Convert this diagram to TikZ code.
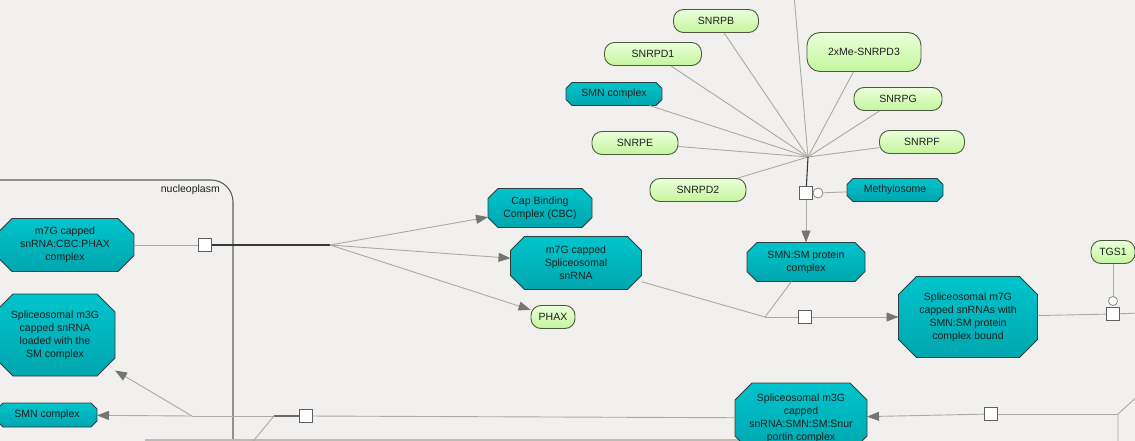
\documentclass[tikz,border=0pt]{standalone}
\usepackage{fontspec}
\setmainfont{Liberation Sans}
\usetikzlibrary{arrows.meta}
\definecolor{bgcol}{RGB}{241,240,238}
\definecolor{tealtop}{RGB}{0,196,204}
\definecolor{tealbot}{RGB}{0,166,174}
\definecolor{cplxline}{RGB}{45,62,62}
\definecolor{prottop}{RGB}{234,255,218}
\definecolor{protbot}{RGB}{196,246,156}
\definecolor{protline}{RGB}{78,88,62}
\definecolor{lncol}{RGB}{170,170,160}
\definecolor{dkcol}{RGB}{55,55,55}
\definecolor{arrcol}{RGB}{118,118,112}
\definecolor{txtcol}{RGB}{30,30,30}
\definecolor{compcol}{RGB}{95,95,95}

% octagon box for complexes
\makeatletter
\newdimen\octxa \newdimen\octxb \newdimen\octya \newdimen\octyb \newdimen\octc
\pgfkeys{/pgf/oct cut/.initial=7pt}
\pgfdeclareshape{octbox}{%
  \inheritsavedanchors[from=rectangle]%
  \inheritanchorborder[from=rectangle]%
  \inheritanchor[from=rectangle]{center}%
  \inheritanchor[from=rectangle]{text}%
  \inheritanchor[from=rectangle]{base}%
  \inheritanchor[from=rectangle]{mid}%
  \inheritanchor[from=rectangle]{north}%
  \inheritanchor[from=rectangle]{south}%
  \inheritanchor[from=rectangle]{east}%
  \inheritanchor[from=rectangle]{west}%
  \inheritanchor[from=rectangle]{north east}%
  \inheritanchor[from=rectangle]{north west}%
  \inheritanchor[from=rectangle]{south east}%
  \inheritanchor[from=rectangle]{south west}%
  \backgroundpath{%
    \pgfmathsetlength\octc{\pgfkeysvalueof{/pgf/oct cut}}%
    \southwest \octxa=\pgf@x \octya=\pgf@y
    \northeast \octxb=\pgf@x \octyb=\pgf@y
    \pgfpathmoveto{\pgfpoint{\octxa+\octc}{\octya}}%
    \pgfpathlineto{\pgfpoint{\octxb-\octc}{\octya}}%
    \pgfpathlineto{\pgfpoint{\octxb}{\octya+\octc}}%
    \pgfpathlineto{\pgfpoint{\octxb}{\octyb-\octc}}%
    \pgfpathlineto{\pgfpoint{\octxb-\octc}{\octyb}}%
    \pgfpathlineto{\pgfpoint{\octxa+\octc}{\octyb}}%
    \pgfpathlineto{\pgfpoint{\octxa}{\octyb-\octc}}%
    \pgfpathlineto{\pgfpoint{\octxa}{\octya+\octc}}%
    \pgfpathclose
  }%
}
\makeatother

\begin{document}
\begin{tikzpicture}[x=1pt, y=-1pt,
    font=\fontsize{10.5}{13}\selectfont,
    cplx/.style={shape=octbox, oct cut=#1, draw=cplxline, line width=0.9pt, outer sep=0pt,
                 top color=tealtop, bottom color=tealbot, align=center, inner sep=1pt,
                 minimum height=23pt, text=txtcol},
    cplx/.default=6pt,
    prot/.style={draw=protline, rounded corners=10pt, line width=0.9pt, top color=prottop,
                 bottom color=protbot, align=center, inner sep=1pt, minimum height=23pt, text=txtcol},
    rxn/.style={draw=dkcol!80, fill=white, line width=1.2pt, minimum size=13pt, inner sep=0pt},
    catc/.style={circle, draw=lncol!80!black, fill=white, line width=0.8pt, minimum size=9pt, inner sep=0pt},
    ln/.style={draw=lncol, line width=0.9pt},
    dk/.style={draw=dkcol, line width=1.1pt},
    arr/.style={ln, -{Triangle[length=12pt,width=9pt,color=arrcol]}}
  ]
  \clip (0,0) rectangle (1135,441);
  \fill[bgcol] (0,0) rectangle (1135,441);

  % compartments
  \draw[compcol, line width=1.1pt, rounded corners=22pt] (-5,180) -- (233,180) -- (233,450);
  \node[anchor=east, text=txtcol, inner sep=0pt] (nucl) at (220,190) {nucleoplasm};
  \draw[lncol!80, line width=2.5pt] (145,440) -- (763,440);

  % complexes and proteins
  \node[cplx=16pt, minimum width=138pt, minimum height=53pt] (cbcphax) at (65,245) {m7G capped\\snRNA:CBC:PHAX\\complex};
  \node[cplx=18pt, minimum width=120pt, minimum height=82pt] (m3gsm) at (55,335) {Spliceosomal m3G\\capped snRNA\\loaded with the\\SM complex};
  \node[cplx, minimum width=100pt, minimum height=24pt] (smnA) at (47,415) {SMN complex};
  \node[cplx=10pt, minimum width=104pt, minimum height=39pt] (cbc) at (540,208) {Cap Binding\\Complex (CBC)};
  \node[cplx=14pt, minimum width=131pt, minimum height=53pt] (m7g) at (576,263) {m7G capped\\Spliceosomal\\snRNA};
  \node[prot, minimum width=44pt] (phax) at (553,317) {PHAX};
  \node[cplx=10pt, minimum width=118pt, minimum height=39pt] (smnsm) at (806,262) {SMN:SM protein\\complex};
  \node[cplx=18pt, minimum width=139pt, minimum height=81pt] (m7gsmn) at (968,317) {Spliceosomal m7G\\capped snRNAs with\\SMN:SM protein\\complex bound};
  \node[prot, minimum width=44pt] (tgs1) at (1113,252) {TGS1};
  \node[cplx=17pt, minimum width=132pt, minimum height=70pt] (m3gsmn) at (801,418) {Spliceosomal m3G\\capped\\snRNA:SMN:SM:Snur\\portin complex};

  \node[cplx, minimum width=96pt] (smnB) at (614,94) {SMN complex};
  \node[prot, minimum width=85pt] (snrpb) at (716,21) {SNRPB};
  \node[prot, minimum width=97pt] (snrpd1) at (653,54) {SNRPD1};
  \node[prot, minimum width=86pt] (snrpe) at (635,143) {SNRPE};
  \node[prot, minimum width=96pt] (snrpd2) at (698,190) {SNRPD2};
  \node[prot, minimum width=114pt, minimum height=39pt, rounded corners=13pt] (snrpd3) at (864,52) {2xMe-SNRPD3};
  \node[prot, minimum width=88pt] (snrpg) at (898,99) {SNRPG};
  \node[prot, minimum width=85pt] (snrpf) at (922,142) {SNRPF};
  \node[cplx, minimum width=96pt] (meth) at (895,190) {Methylosome};

  % reactions
  \node[rxn] (r1) at (205,245) {};
  \node[rxn] (r2) at (806,193) {};
  \node[catc, minimum size=10pt] (c2) at (818,193) {};
  \node[rxn] (r3) at (805,317) {};
  \node[rxn] (r4) at (1113,314) {};
  \node[catc] (c4) at (1113,301) {};
  \node[rxn] (r5) at (991,414) {};
  \node[rxn] (r6) at (306,416) {};

  \coordinate (hub) at (808,157);
  \coordinate (topend) at (794,-5);
  \coordinate (j1) at (330,245);
  \coordinate (j3) at (765,317);
  \coordinate (rgtA) at (1140,313);
  \coordinate (j5) at (1118,414);
  \coordinate (j5a) at (1140,394);
  \coordinate (j5b) at (1118,446);
  \coordinate (j6) at (274,416);
  \coordinate (j6a) at (250,445);
  \coordinate (j7) at (192,416);

  % CBC:PHAX dissociation
  \draw[ln] (cbcphax) -- (r1);
  \draw[dk] (r1) -- (j1);
  \draw[arr] (j1) -- (cbc);
  \draw[arr] (j1) -- (m7g);
  \draw[arr] (j1) -- (phax);

  % SMN:SM assembly
  \foreach \p in {snrpb,snrpd1,smnB,snrpe,snrpd2,snrpd3,snrpg,snrpf,topend}
    \draw[ln] (hub) -- (\p);
  \draw[dk] (hub) -- (r2);
  \draw[ln] (c2) -- (meth);
  \draw[arr] (r2) -- (smnsm);

  % loading onto snRNA
  \draw[ln] (m7g) -- (j3);
  \draw[ln] (smnsm) -- (j3);
  \draw[ln] (j3) -- (r3);
  \draw[arr] (r3) -- (m7gsmn);

  % hypermethylation
  \draw[ln] (m7gsmn) -- (r4);
  \draw[ln] (r4) -- (rgtA);
  \draw[ln] (tgs1) -- (c4);

  \draw[ln] (j5a) -- (j5) -- (j5b);
  \draw[ln] (j5) -- (r5);
  \draw[arr] (r5) -- (m3gsmn);

  % release of SMN
  \draw[ln] (m3gsmn) -- (r6);
  \draw[dk, draw=dkcol!75] (r6) -- (j6);
  \draw[ln] (j6) -- (j6a);
  \draw[ln] (j6) -- (j7);
  \draw[arr] (j7) -- (smnA);
  \draw[arr] (j7) -- (m3gsm);
\end{tikzpicture}
\end{document}
